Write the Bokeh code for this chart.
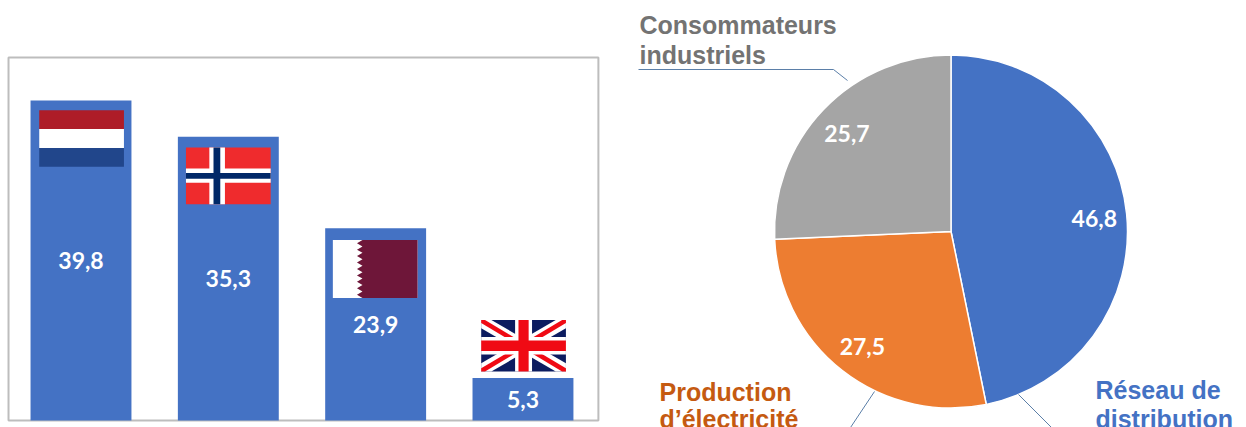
from math import sin, cos, pi
from bokeh.core.properties import value
from bokeh.embed import file_html
from bokeh.layouts import row
from bokeh.models import Range1d
from bokeh.plotting import figure
from bokeh.resources import INLINE

# Volumes by supplier country
countries = ["Pays-Bas", "Norvège", "Qatar", "Royaume-Uni"]
volumes = [39.8, 35.3, 23.9, 5.3]
volume_labels = ["39,8", "35,3", "23,9", "5,3"]

# Flag placement: distance from the bar top to the flag top (negative sits above the bar),
# sideways shift in bar spacings, and flag height in value units
flag_gaps = [1.2, 1.35, 1.45, -7.2]
flag_shifts = [0.004, 0.0, -0.003, 0.004]
flag_heights = [7.05, 7.05, 7.2, 6.4]

# Consumption by sector
sectors = ["Réseau de distribution", "Production d’électricité", "Consommateurs industriels"]
shares = [46.8, 27.5, 25.7]
share_labels = ["46,8", "27,5", "25,7"]
sector_colors = ["#4472C4", "#ED7D31", "#A5A5A5"]

BLUE = "#4472C4"
LABEL_FONT = value("Lato")
TITLE_FONT = value("Liberation Sans")

# Left panel: bars with the flag of each country
left = figure(
    width=620, height=427, output_backend="svg", toolbar_location=None,
    x_range=Range1d(-0.5464, 3.662), y_range=Range1d(-0.87, 52.24),
    min_border=0, x_axis_type=None, y_axis_type=None,
)
left.grid.visible = False
left.outline_line_color = None

# Grey frame around the bars
left.quad(
    left=[-0.492], right=[3.512], bottom=[0], top=[45.15],
    fill_color=None, line_color="#BDBDBD", line_width=2,
)

positions = list(range(len(countries)))
left.vbar(x=positions, top=volumes, bottom=0, width=0.685, color=BLUE, line_color=None)

FLAG_W = 0.575


def flag_painter(index):
    """Return a function drawing polygons given in the flag's own 0-1 coordinates."""
    x0 = positions[index] + flag_shifts[index] - FLAG_W / 2
    top = volumes[index] - flag_gaps[index]
    height = flag_heights[index]

    def paint(points, color):
        left.patch(
            [x0 + u * FLAG_W for u, _ in points],
            [top - v * height for _, v in points],
            color=color, line_color=None,
        )
    return paint


def box(u0, v0, u1, v1):
    return [(u0, v0), (u1, v0), (u1, v1), (u0, v1)]


# Netherlands
nl = flag_painter(0)
nl(box(0, 0, 1, 1 / 3), "#AE1C28")
nl(box(0, 1 / 3, 1, 2 / 3), "#FFFFFF")
nl(box(0, 2 / 3, 1, 1), "#21468B")

# Norway
no = flag_painter(1)
no(box(0, 0, 1, 1), "#EF2B2D")
no(box(0.276, 0, 0.46, 1), "#FFFFFF")
no(box(0, 0.37, 1, 0.62), "#FFFFFF")
no(box(0.325, 0, 0.405, 1), "#002868")
no(box(0, 0.45, 1, 0.55), "#002868")

# Qatar
qa = flag_painter(2)
qa(box(0, 0, 1, 1), "#FFFFFF")
teeth = 9
edge = []
for t in range(teeth):
    edge.append((0.35, t / teeth))
    edge.append((0.285, (t + 0.5) / teeth))
edge.append((0.35, 1))
qa([(1, 0)] + edge + [(1, 1)], "#6E1639")

# United Kingdom
uk = flag_painter(3)
uk(box(0, 0, 1, 1), "#0C1C60")


def diagonal(half_u, half_v, flip):
    pts = [
        (0, 0), (half_u, 0), (1, 1 - half_v), (1, 1),
        (1 - half_u, 1), (0, half_v),
    ]
    return [((1 - u) if flip else u, v) for u, v in pts]


uk(diagonal(0.12, 0.16, False), "#FFFFFF")
uk(diagonal(0.12, 0.16, True), "#FFFFFF")
uk(diagonal(0.045, 0.06, False), "#F00A14")
uk(diagonal(0.045, 0.06, True), "#F00A14")
uk(box(0.40, 0, 0.60, 1), "#FFFFFF")
uk(box(0, 0.33, 1, 0.67), "#FFFFFF")
uk(box(0.44, 0, 0.56, 1), "#F00A14")
uk(box(0, 0.40, 1, 0.60), "#F00A14")

# Value labels sit at mid-height of each bar
label_y = [v / 2 for v in volumes]
left.text(
    x=positions, y=label_y, text=volume_labels, text_color="#FFFFFF",
    text_font=LABEL_FONT, text_font_style="bold", text_font_size="23px",
    text_align="center", text_baseline="middle",
)

# Right panel: pie of consumption, in a coordinate system of panel pixels
right = figure(
    width=626, height=427, output_backend="svg", toolbar_location=None,
    x_range=Range1d(620, 1246), y_range=Range1d(427, 0),
    min_border=0, x_axis_type=None, y_axis_type=None,
)
right.grid.visible = False
right.outline_line_color = None

CX, CY, R = 950.5, 231, 176.5

# Slices run clockwise from twelve o'clock, in cumulative shares
total = sum(shares)
cum = 0.0
mids = []
for share, color in zip(shares, sector_colors):
    a0 = cum / total * 2 * pi
    a1 = (cum + share) / total * 2 * pi
    mids.append((a0 + a1) / 2)
    right.wedge(
        x=[CX], y=[CY], radius=R,
        start_angle=[pi / 2 - a1], end_angle=[pi / 2 - a0], direction="anticlock",
        fill_color=color, line_color="#FFFFFF", line_width=1.5,
    )
    cum += share

LABEL_R = 144
right.text(
    x=[CX + LABEL_R * sin(a) for a in mids],
    y=[CY - LABEL_R * cos(a) + 1.5 for a in mids],
    text=share_labels, text_color="#FFFFFF",
    text_font=LABEL_FONT, text_font_style="bold", text_font_size="23px",
    text_align="center", text_baseline="middle",
)

# Leader lines from the slices to their captions
LEADER = "#5B7FA8"
right.line([638, 833, 847], [69, 69, 80], line_color=LEADER, line_width=1)
right.line([874, 850], [391, 427], line_color=LEADER, line_width=1)
right.line([1018, 1051], [394, 427], line_color=LEADER, line_width=1)

# Captions
captions = [
    ("Consommateurs", 639, 24, "#737373"),
    ("industriels", 639, 54, "#737373"),
    ("Production", 659, 391, "#C55A11"),
    ("d’électricité", 659, 418, "#C55A11"),
    ("Réseau de", 1095, 389, "#4472C4"),
    ("distribution", 1095, 418, "#4472C4"),
]
for caption, x, y, color in captions:
    right.text(
        x=[x], y=[y], text=[caption], text_color=color,
        text_font=TITLE_FONT, text_font_style="bold", text_font_size="25px",
        text_align="left", text_baseline="alphabetic",
    )

page = row(left, right, spacing=0)
open("out.html", "w").write(file_html(page, INLINE))
